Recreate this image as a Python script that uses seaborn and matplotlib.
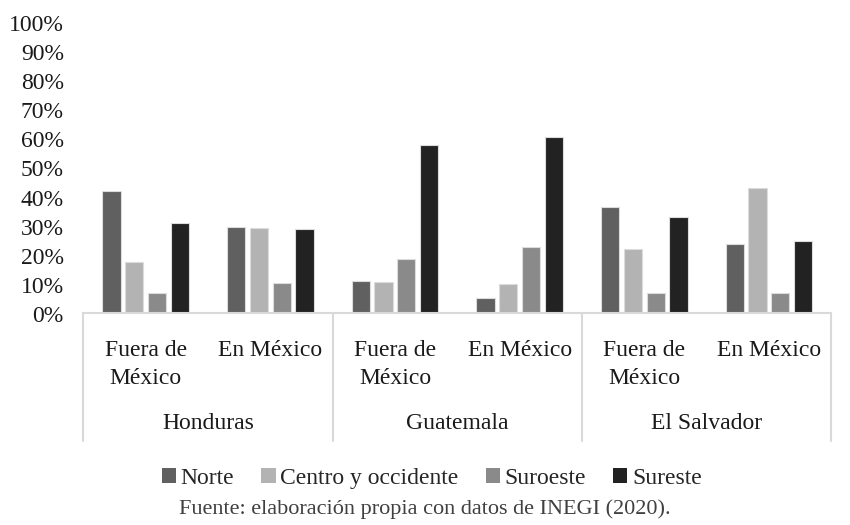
import matplotlib
matplotlib.use("Agg")
import matplotlib.pyplot as plt
import matplotlib.transforms as mtrans
import seaborn as sns
import pandas as pd
from matplotlib.patches import Patch
from matplotlib.lines import Line2D

countries = ["Honduras", "Guatemala", "El Salvador"]
lugares = ["Fuera de\nMéxico", "En México"]
regiones = ["Norte", "Centro y occidente", "Suroeste", "Sureste"]
norte = [42.1, 29.7, 11.1, 5.4, 36.6, 24.0]
centro = [17.7, 29.3, 10.9, 10.1, 22.1, 43.1]
suroeste = [7.1, 10.3, 18.8, 22.7, 7.1, 7.0]
sureste = [31.0, 28.9, 57.9, 60.6, 33.0, 24.9]
colores = ["#606060", "#b3b3b3", "#8a8a8a", "#222222"]
yticks = list(range(0, 101, 10))
fuente = "Fuente: elaboración propia con datos de INEGI (2020)."

sns.set_theme(style="white")
plt.rcParams["font.family"] = ["Liberation Serif", "DejaVu Serif"]

slots = [f"{c}|{l}" for c in countries for l in lugares]
rows = []
for series, reg in zip([norte, centro, suroeste, sureste], regiones):
    for s, v in zip(slots, series):
        rows.append({"slot": s, "region": reg, "valor": v})
df = pd.DataFrame(rows)

FS = 17
TXT = "#1a1a1a"

fig = plt.figure(figsize=(8.5, 5.25), dpi=100)
ax = fig.add_axes([0.098, 0.403, 0.88, 0.554])
sns.barplot(data=df, x="slot", y="valor", hue="region", order=slots,
            hue_order=regiones, palette=colores, width=0.73, gap=0.2,
            edgecolor="#dcdcdc", linewidth=0.8, legend=False, ax=ax)

ax.set_ylim(0, 100)
ax.set_xlim(-0.5, len(slots) - 0.5)
ax.set_yticks(yticks)
ax.set_yticklabels([f"{t}%" for t in yticks], fontsize=FS, color=TXT)
ax.set_xticks(range(len(slots)))
ax.set_xticklabels([l for c in countries for l in lugares], fontsize=FS,
                   color=TXT, va="top", linespacing=1.45)
ax.tick_params(axis="both", length=0)
ax.tick_params(axis="y", pad=14)
ax.tick_params(axis="x", pad=19)
shift = mtrans.ScaledTranslation(0, -3 / 100, fig.dpi_scale_trans)
for lab in ax.get_yticklabels():
    lab.set_va("center")
    lab.set_transform(lab.get_transform() + shift)
ax.set_xlabel("")
ax.set_ylabel("")
for sp in ["top", "right", "left"]:
    ax.spines[sp].set_visible(False)
ax.spines["bottom"].set_color("#d9d9d9")
ax.spines["bottom"].set_linewidth(1.5)

trans = ax.get_xaxis_transform()
for i in range(len(countries) + 1):
    x = -0.5 + 2 * i
    ax.add_line(Line2D([x, x], [0, -0.44], transform=trans, color="#d9d9d9",
                       lw=1.5, clip_on=False))
for i, c in enumerate(countries):
    ax.text(2 * i + 0.5, -0.378, c, transform=trans, ha="center", va="center",
            fontsize=FS, color=TXT)

handles = [Patch(facecolor=col, edgecolor="none") for col in colores]
fig.legend(handles, regiones, loc="center", bbox_to_anchor=(0.508, 0.088),
           ncol=4, frameon=False, fontsize=FS, handlelength=0.6,
           handleheight=0.6, handletextpad=0.2, columnspacing=1.15)
fig.text(0.5, 0.03, fuente, ha="center", va="center", fontsize=16,
         color="#404040")

fig.savefig("out.png", dpi=100)
